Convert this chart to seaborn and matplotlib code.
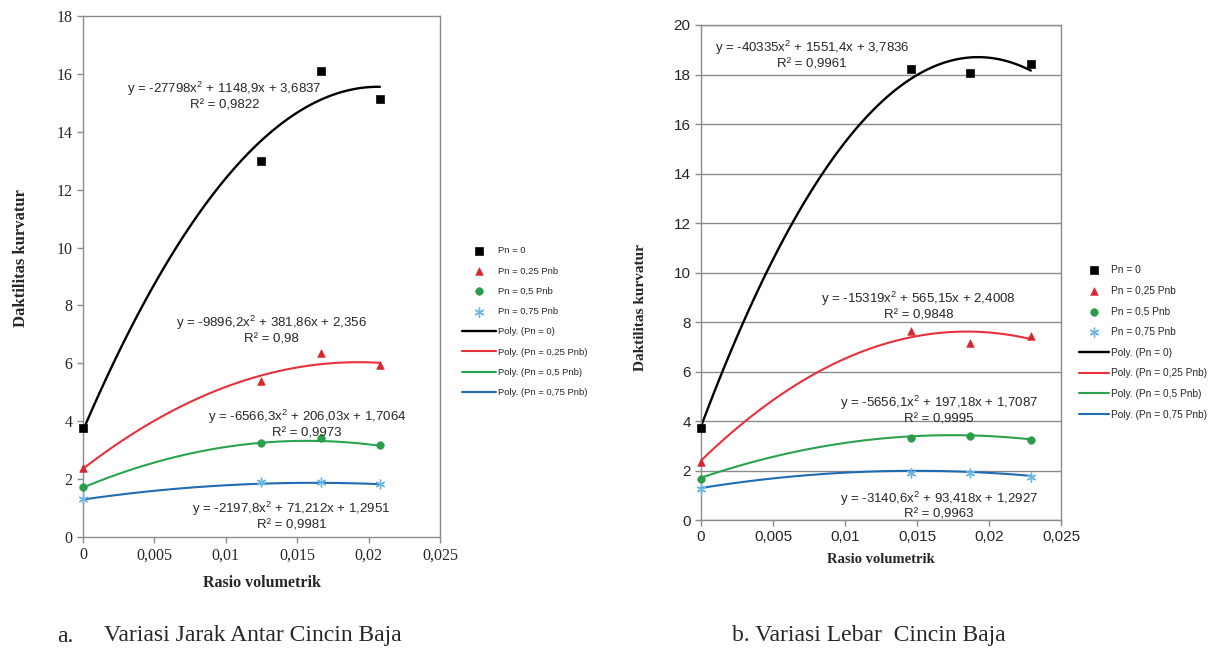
import numpy as np
import pandas as pd
import matplotlib
matplotlib.use("Agg")
import matplotlib.pyplot as plt
import seaborn as sns

# data (Daktilitas kurvatur vs Rasio volumetrik)
series_names = ["Pn = 0", "Pn = 0,25 Pnb", "Pn = 0,5 Pnb", "Pn = 0,75 Pnb"]
poly_names = ["Poly. (Pn = 0)", "Poly. (Pn = 0,25 Pnb)", "Poly. (Pn = 0,5 Pnb)", "Poly. (Pn = 0,75 Pnb)"]

# a. Variasi Jarak Antar Cincin Baja
x_a = [0, 0.0125, 0.0167, 0.0208]
y_a_0 = [3.78, 13.0, 16.1, 15.15]
y_a_25 = [2.37, 5.39, 6.36, 5.94]
y_a_50 = [1.74, 3.24, 3.43, 3.18]
y_a_75 = [1.31, 1.89, 1.91, 1.83]
coef_a = [[-27798, 1148.9, 3.6837], [-9896.2, 381.86, 2.356],
          [-6566.3, 206.03, 1.7064], [-2197.8, 71.212, 1.2951]]
eq_a = ["y = -27798x$^2$ + 1148,9x + 3,6837\nR² = 0,9822",
        "y = -9896,2x$^2$ + 381,86x + 2,356\nR² = 0,98",
        "y = -6566,3x$^2$ + 206,03x + 1,7064\nR² = 0,9973",
        "y = -2197,8x$^2$ + 71,212x + 1,2951\nR² = 0,9981"]

# b. Variasi Lebar Cincin Baja
x_b = [0, 0.0146, 0.0187, 0.0229]
y_b_0 = [3.70, 18.21, 18.05, 18.42]
y_b_25 = [2.36, 7.64, 7.14, 7.43]
y_b_50 = [1.64, 3.33, 3.39, 3.22]
y_b_75 = [1.24, 1.91, 1.89, 1.75]
coef_b = [[-40335, 1551.4, 3.7836], [-15319, 565.15, 2.4008],
          [-5656.1, 197.18, 1.7087], [-3140.6, 93.418, 1.2927]]
eq_b = ["y = -40335x$^2$ + 1551,4x + 3,7836\nR² = 0,9961",
        "y = -15319x$^2$ + 565,15x + 2,4008\nR² = 0,9848",
        "y = -5656,1x$^2$ + 197,18x + 1,7087\nR² = 0,9995",
        "y = -3140,6x$^2$ + 93,418x + 1,2927\nR² = 0,9963"]

xtick_vals = [0, 0.005, 0.01, 0.015, 0.02, 0.025]
xtick_labels = ["0", "0,005", "0,01", "0,015", "0,02", "0,025"]

marker_list = ["s", "^", "o", (6, 2, 0)]
marker_sizes = [36, 30, 30, 40]
marker_colors = ["#000000", "#d8262e", "#2a9d4c", "#6cb6e4"]
line_colors = ["#000000", "#e8303a", "#2aa34f", "#1f6cb4"]

sns.set_style("white")
plt.rcParams["font.family"] = ["Liberation Sans", "DejaVu Sans"]
plt.rcParams["mathtext.fontset"] = "custom"
plt.rcParams["mathtext.rm"] = "Liberation Sans"

fig = plt.figure(figsize=(12.15, 6.51), dpi=100)
ax_a = fig.add_axes([0.0683, 0.1751, 0.2938, 0.8003])
ax_b = fig.add_axes([0.5770, 0.2012, 0.2963, 0.7604])


def draw(ax, xs, ys_list, coefs, eqs, eq_pos):
    df = pd.DataFrame({"x": xs * 4,
                       "y": [v for ys in ys_list for v in ys],
                       "seri": [n for n in series_names for _ in xs]})
    for i, name in enumerate(series_names):
        sub = df[df.seri == name]
        kw = dict(edgecolor=marker_colors[i]) if i < 3 else dict(linewidth=1.0)
        sns.scatterplot(data=sub, x="x", y="y", marker=marker_list[i], s=marker_sizes[i],
                        color=marker_colors[i], label=name, ax=ax, zorder=3,
                        clip_on=False, **kw)
    xfit = np.linspace(0, max(xs), 120)
    for i, name in enumerate(poly_names):
        sns.lineplot(x=xfit, y=np.polyval(coefs[i], xfit), color=line_colors[i],
                     lw=1.7 if i == 0 else 1.5, label=name, ax=ax, zorder=2,
                     clip_on=False)
    for txt, (ex, ey) in zip(eqs, eq_pos):
        ax.text(ex, ey, txt, ha="center", va="center", fontsize=9.5,
                linespacing=1.15, multialignment="center", zorder=4)
    ax.set_xlim(0, 0.025)
    ax.set_xticks(xtick_vals)
    ax.set_xticklabels(xtick_labels)
    for sp in ax.spines.values():
        sp.set_color("#8c8c8c")
        sp.set_linewidth(1.0)
    ax.tick_params(direction="out", length=4, width=1, color="#8c8c8c",
                   bottom=True, left=True)
    h, l = ax.get_legend_handles_labels()
    ax.get_legend().remove()
    return h, l


# left chart
h, l = draw(ax_a, x_a, [y_a_0, y_a_25, y_a_50, y_a_75], coef_a, eq_a,
            [(0.0099, 15.25), (0.0132, 7.15), (0.0157, 3.93), (0.0146, 0.73)])
ax_a.set_ylim(0, 18)
ax_a.set_yticks(range(0, 19, 2))
for t in ax_a.get_xticklabels() + ax_a.get_yticklabels():
    t.set_fontfamily("Liberation Serif")
    t.set_fontsize(11.5)
ax_a.set_xlabel("Rasio volumetrik", fontfamily="Liberation Serif", fontweight="bold",
                fontsize=11.5, labelpad=8)
ax_a.set_ylabel("Daktilitas kurvatur", fontfamily="Liberation Serif", fontweight="bold",
                fontsize=12)
ax_a.yaxis.set_label_coords(-0.15, 0.535)
fig.legend(h, l, loc="upper left", bbox_to_anchor=(462 / 1215, 1 - 246 / 651),
           frameon=False, fontsize=6.8, labelspacing=1.2, handlelength=3.6,
           handletextpad=0.25, borderpad=0, borderaxespad=0)

# right chart
h, l = draw(ax_b, x_b, [y_b_0, y_b_25, y_b_50, y_b_75], coef_b, eq_b,
            [(0.0077, 18.8), (0.0151, 8.65), (0.0165, 4.45), (0.0165, 0.6)])
ax_b.set_ylim(0, 20)
ax_b.set_yticks(range(0, 21, 2))
ax_b.yaxis.grid(True, color="#8c8c8c", lw=1)
ax_b.set_axisbelow(True)
for t in ax_b.get_xticklabels() + ax_b.get_yticklabels():
    t.set_fontsize(11)
ax_b.set_xlabel("Rasio volumetrik", fontfamily="Liberation Serif", fontweight="bold",
                fontsize=10.5, labelpad=6)
ax_b.set_ylabel("Daktilitas kurvatur", fontfamily="Liberation Serif", fontweight="bold",
                fontsize=11)
ax_b.yaxis.set_label_coords(-0.15, 0.43)
fig.legend(h, l, loc="upper left", bbox_to_anchor=(1079 / 1215, 1 - 265 / 651),
           frameon=False, fontsize=7.3, labelspacing=1.05, handlelength=3.0,
           handletextpad=0.2, borderpad=0, borderaxespad=0)

# captions
fig.text(57 / 1215, 1 - 636 / 651, "a.", fontfamily="Liberation Serif", fontsize=17, va="center")
fig.text(104 / 1215, 1 - 636 / 651, "Variasi Jarak Antar Cincin Baja",
         fontfamily="Liberation Serif", fontsize=17, va="center")
fig.text(732 / 1215, 1 - 636 / 651, "b. Variasi Lebar  Cincin Baja",
         fontfamily="Liberation Serif", fontsize=17, va="center")

fig.savefig("out.png", dpi=100)
